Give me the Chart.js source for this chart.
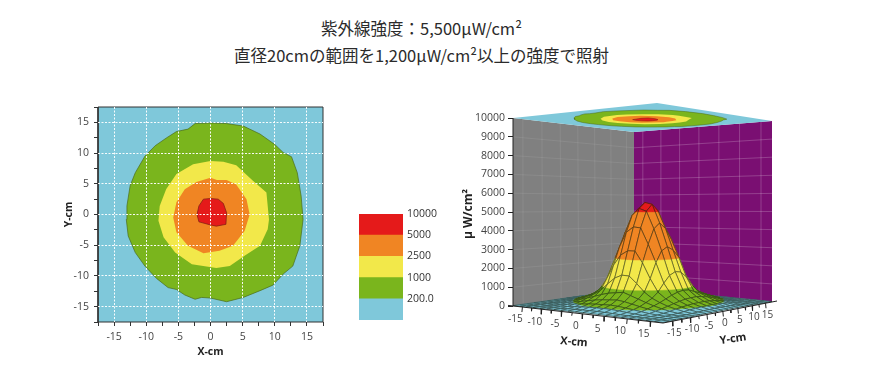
<!DOCTYPE html>
<html lang="ja">
<head>
<meta charset="utf-8">
<title>紫外線強度</title>
<script src="https://cdn.jsdelivr.net/npm/chart.js@4"></script>
<style>
html,body{margin:0;padding:0;background:#fff;width:872px;height:382px;overflow:hidden}
canvas{position:absolute;display:block}
.t{position:absolute;left:0;width:843px;text-align:center;font:16.5px "Noto Sans CJK JP","Noto Sans",sans-serif;color:#2b2b2b;line-height:24px;white-space:nowrap}
</style>
</head>
<body>
<div class="t" style="top:16px">紫外線強度：5,500μW/cm²</div>
<div class="t" style="top:43px">直径20cmの範囲を1,200μW/cm²以上の強度で照射</div>
<canvas id="contour" width="280" height="270" style="left:60px;top:95px"></canvas>
<canvas id="legend" width="110" height="130" style="left:340px;top:200px"></canvas>
<canvas id="surface" width="340" height="265" style="left:450px;top:95px"></canvas>
<script>
// ---------- data ----------
const axisTicks = [-15,-10,-5,0,5,10,15];
const minorTicks = [-17.5,-15,-12.5,-10,-7.5,-5,-2.5,0,2.5,5,7.5,10,12.5,15,17.5];
const zTicks = [0,1000,2000,3000,4000,5000,6000,7000,8000,9000,10000];
const legendLabels = ['200.0','1000','2500','5000','10000'];
const levels = [0,200,1000,2500,5000,10001];

const contour200 = [[0,14.9],[2.5,14.8],[5.1,14.4],[7.7,13.1],[10,11.4],[11.3,10.1],[12.6,9.4],[13.5,6.8],[14.1,3],[14.4,-0.8],[13.9,-5.1],[12.8,-8.4],[11.3,-9.7],[9.7,-11.5],[7.7,-12.4],[5.1,-13.5],[2.5,-14.2],[0,-13.6],[-1.4,-13.5],[-2.4,-13.8],[-4,-13.1],[-5.3,-12.2],[-6.6,-11.9],[-8.4,-10.4],[-10.2,-8.4],[-11.7,-6.2],[-12.8,-3.5],[-13.1,-0.8],[-13,1.4],[-12.5,4.7],[-11.7,6.8],[-10.2,9.5],[-8.6,11.2],[-6.8,12.5],[-5.3,13.5],[-3.5,13.9],[-2.4,14.8]];
const contour1000 = [[0,8.7],[2,8.6],[4,8],[6.6,5.5],[8.7,3.6],[9.1,-0.8],[8.9,-2.4],[7.7,-5.1],[5.3,-6.7],[3,-8.4],[0.9,-8.7],[-2.9,-8.1],[-5.5,-6.2],[-7.3,-3.7],[-8.1,-1],[-7.9,1.4],[-6.9,4.1],[-5.3,6.6],[-2.7,8.2]];
const contour2500 = [[0,6],[1,5.6],[2.5,5.6],[4,4.9],[5.6,2.5],[6.1,0],[5.3,-2.7],[3.5,-5.1],[1.4,-5.9],[-1.1,-6.3],[-3.5,-5.1],[-5.3,-2.9],[-5.8,-0.5],[-5.3,2],[-4,4.1],[-2.2,5.3]];
const contour5000 = [[0,2.6],[1.2,2.5],[2,1.8],[2.5,0.3],[2.4,-1.6],[0.9,-1.9],[0,-1.7],[-1.8,-1.2],[-2.1,0],[-1.8,1.4],[-1.1,2.5]];

// surface heights: rows are Y = -17.5 … 17.5, columns X = -17.5 … 17.5 (step 1.75)
const gridStep = 1.75, gridMin = -17.5;
const surfaceZ = [
[20,24,28,31,35,39,44,50,54,57,58,59,57,54,50,45,40,36,32,27,23],
[24,28,32,38,44,52,62,78,90,100,104,108,100,88,70,58,50,42,36,32,28],
[28,33,38,46,56,80,108,135,165,185,192,200,190,160,125,92,66,54,44,38,32],
[31,38,48,60,90,130,180,225,265,295,305,320,300,255,205,150,102,70,54,42,35],
[35,45,56,90,140,205,275,350,420,470,495,530,480,395,310,235,160,100,64,50,40],
[39,52,80,130,205,295,410,530,660,770,820,880,740,600,460,335,230,145,88,58,44],
[44,62,108,180,275,410,570,810,1180,1520,1700,1680,1320,910,630,450,305,205,120,68,50],
[50,78,135,225,350,530,810,1400,2150,2700,2950,2950,2350,1560,900,590,385,250,150,85,54],
[54,90,165,265,420,660,1180,2150,3100,3900,4200,4150,3300,2350,1320,730,460,290,180,98,57],
[57,100,185,295,470,770,1520,2700,3900,4800,5180,5030,4100,2950,1680,840,520,325,200,108,60],
[58,105,192,310,495,820,1650,2900,4150,5150,5500,5400,4400,3150,1850,900,545,335,210,115,62],
[58,105,195,310,510,800,1600,2850,4050,4950,5300,5050,4100,2950,1800,880,560,345,225,122,62],
[55,98,178,285,450,700,1240,2300,3250,4050,4300,4250,3500,2550,1500,760,520,325,205,110,58],
[52,85,150,245,380,570,880,1520,2300,2850,3050,3100,2550,1650,1040,640,460,295,180,100,56],
[48,70,120,200,300,440,620,880,1270,1640,1800,1780,1400,980,680,520,370,240,155,88,52],
[44,58,90,145,230,320,445,580,710,830,880,900,780,640,520,410,290,185,120,72,48],
[40,50,62,100,155,230,300,385,460,520,545,555,500,440,380,300,205,135,85,58,44],
[36,42,52,68,100,150,205,255,295,325,345,355,330,300,255,195,135,92,66,50,40],
[32,37,42,52,62,90,120,155,185,205,225,235,220,190,160,120,88,62,50,42,36],
[28,32,37,42,50,57,70,88,102,115,125,128,118,105,88,68,58,48,42,36,32],
[24,28,32,35,40,44,50,55,58,60,62,62,60,56,52,48,44,38,34,30,26]
];

// ---------- styles ----------
const bandColors = ['#7fc8da','#7ab51d','#f2e84a','#f08523','#e51a1a'];
const contourBorders = ['#333','#4a6b1a',null,null,'#7a1a12'];
const TEXT = '#333';
const FONT = '"Open Sans","Noto Sans",sans-serif';
Chart.defaults.animation = false;
Chart.defaults.responsive = false;
Chart.defaults.events = [];
Chart.defaults.plugins.legend.display = false;
Chart.defaults.plugins.tooltip.enabled = false;
Chart.defaults.font.family = FONT;
Chart.defaults.font.size = 10;
Chart.defaults.color = TEXT;

const toPts = a => a.map(p => ({x:p[0], y:p[1]}));
const closed = a => a.concat([a[0]]);
function shape(points, fillColor, line, width){
  return {data:points, showLine:true, pointRadius:0, fill: fillColor ? 'shape' : false,
    backgroundColor: fillColor || 'transparent', borderColor: line || 'transparent',
    borderWidth: line ? (width||1) : 0, clip:false, tension:0};
}
const noOverflow = s => { s.paddingTop=0; s.paddingBottom=0; s.paddingLeft=0; s.paddingRight=0; };

// ---------- left: contour map ----------
const LIM = 17.5;
const frame = [[-LIM,-LIM],[LIM,-LIM],[LIM,LIM],[-LIM,LIM]];
const contourSets = [contour200,contour1000,contour2500,contour5000];
const leftSets = [shape(toPts(closed(frame)), bandColors[0], '#333', 1)];
contourSets.forEach((c,i)=> leftSets.push(shape(toPts(closed(c)), bandColors[i+1], contourBorders[i+1], 0.7)));
const isMajor = v => Math.abs(v % 5) < 1e-6;
function planeAxis(title, fit){
  return {type:'linear', min:-LIM, max:LIM, afterFit:s=>{fit(s);noOverflow(s);},
    afterBuildTicks: s => { s.ticks = minorTicks.map(value=>({value})); },
    grid:{z:1, color:c=> isMajor(c.tick.value) && Math.abs(c.tick.value)<LIM ? 'rgba(255,255,255,0.95)' : 'transparent',
      lineWidth:1, tickColor:'#333', tickLength:4, tickWidth:1},
    border:{display:false, dash:[2,1.5]},
    ticks:{autoSkip:false, maxRotation:0, padding:5, font:{size:10.5}, color:'#444',
      callback:v=> axisTicks.includes(v) ? String(v) : ''},
    title:{display:true, text:title, font:{size:10.5, weight:'bold'}, color:'#222', padding:{top:1,bottom:0}}
  };
}
new Chart(document.getElementById('contour'),{
  type:'scatter',
  data:{datasets:leftSets.slice().reverse()},
  options:{layout:{padding:{top:12,right:17,left:2,bottom:7}},
    scales:{
      x:planeAxis('X-cm', s=>{s.height=36;}),
      y:planeAxis('Y-cm', s=>{s.width=36;})
    }}
});

// ---------- legend ----------
new Chart(document.getElementById('legend'),{
  type:'bar',
  data:{labels:[''], datasets:bandColors.map(c=>({data:[1], backgroundColor:c, barPercentage:1, categoryPercentage:1, borderWidth:0}))},
  options:{layout:{padding:{left:19,top:14,bottom:10,right:0}},
    scales:{
      x:{display:false, stacked:true},
      y:{stacked:true, position:'right', min:0, max:legendLabels.length, afterFit:s=>{s.width=47;noOverflow(s);},
        grid:{display:false,drawTicks:false}, border:{display:false},
        ticks:{stepSize:1, padding:4, font:{size:10.5}, color:TEXT, callback:v=> v>0 ? legendLabels[v-1] : ''}}
    }}
});

// ---------- right: 3-D surface ----------
// view corners on the page: floor and lid, order (X-,Y-),(X+,Y-),(X+,Y+),(X-,Y+)
const floorQuad = [[513,306],[663,323],[772,302],[634,290]];
const lidQuad   = [[513,118],[657,103],[772,121],[634,132]];
function homography(q){
  const [[x0,y0],[x1,y1],[x2,y2],[x3,y3]] = q;
  const dx1=x1-x2, dx2=x3-x2, sx=x0-x1+x2-x3, dy1=y1-y2, dy2=y3-y2, sy=y0-y1+y2-y3;
  const den=dx1*dy2-dx2*dy1, g=(sx*dy2-dx2*sy)/den, h=(dx1*sy-sx*dy1)/den;
  const a=x1-x0+g*x1, b=x3-x0+h*x3, d=y1-y0+g*y1, e=y3-y0+h*y3;
  return (u,v)=>{const w=g*u+h*v+1; return [(a*u+b*v+x0)/w,(d*u+e*v+y0)/w];};
}
const H0 = homography(floorQuad), H1 = homography(lidQuad);
function project(X,Y,Z){
  const u=(X+LIM)/(2*LIM), v=(Y+LIM)/(2*LIM), t=Z/10000;
  const a=H0(u,v), b=H1(u,v);
  return {x:a[0]+(b[0]-a[0])*t, y:a[1]+(b[1]-a[1])*t};
}
const sets3d = [];
// walls
const GRAY='#808080', PURPLE='#7a0f72', GRAYLINE='rgba(255,255,255,0.08)', PURPLELINE='rgba(255,255,255,0.2)';
sets3d.push(shape([project(-LIM,-LIM,0),project(-LIM,LIM,0),project(-LIM,LIM,10000),project(-LIM,-LIM,10000)].concat([project(-LIM,-LIM,0)]),GRAY));
sets3d.push(shape([project(-LIM,LIM,0),project(LIM,LIM,0),project(LIM,LIM,10000),project(-LIM,LIM,10000)].concat([project(-LIM,LIM,0)]),PURPLE));
zTicks.slice(1,-1).forEach(z=>{
  sets3d.push(shape([project(-LIM,-LIM,z),project(-LIM,LIM,z)],null,GRAYLINE,1));
  sets3d.push(shape([project(-LIM,LIM,z),project(LIM,LIM,z)],null,PURPLELINE,1));
});
axisTicks.forEach(v=>{
  sets3d.push(shape([project(-LIM,v,0),project(-LIM,v,10000)],null,GRAYLINE,1));
  sets3d.push(shape([project(v,LIM,0),project(v,LIM,10000)],null,PURPLELINE,1));
});
// lid with the contour map
sets3d.push(shape(closed(frame).map(p=>project(p[0],p[1],10000)),bandColors[0]));
contourSets.forEach((c,i)=> sets3d.push(shape(closed(c).map(p=>project(p[0],p[1],10000)),bandColors[i+1],contourBorders[i+1],0.5)));
// clip a mesh cell to one band of levels
function clipZ(poly,limit,keepAbove){
  const out=[];
  for(let i=0;i<poly.length;i++){
    const a=poly[i], b=poly[(i+1)%poly.length];
    const ia=keepAbove? a[2]>=limit : a[2]<=limit, ib=keepAbove? b[2]>=limit : b[2]<=limit;
    if(ia) out.push(a);
    if(ia!==ib){const t=(limit-a[2])/(b[2]-a[2]); out.push([a[0]+(b[0]-a[0])*t,a[1]+(b[1]-a[1])*t,limit]);}
  }
  return out;
}
const MESH='rgba(20,30,20,0.8)';
const n=surfaceZ.length;
for(let j=n-2;j>=0;j--){
  for(let i=0;i<n-1;i++){
    const X0=gridMin+i*gridStep, X1=X0+gridStep, Y0=gridMin+j*gridStep, Y1=Y0+gridStep;
    const cell=[[X0,Y0,surfaceZ[j][i]],[X1,Y0,surfaceZ[j][i+1]],[X1,Y1,surfaceZ[j+1][i+1]],[X0,Y1,surfaceZ[j+1][i]]];
    bandColors.forEach((col,b)=>{
      const piece=clipZ(clipZ(cell,levels[b],true),levels[b+1],false);
      if(piece.length>2){
        const pts=piece.map(p=>project(p[0],p[1],p[2]));
        sets3d.push(shape(closed(pts),col,col,0.5));
      }
    });
    sets3d.push(shape(closed(cell).map(p=>project(p[0],p[1],p[2])),null,MESH,0.65));
  }
}
// axes
const AX='#222';
sets3d.push(shape([project(-LIM,-LIM,0),project(-LIM,-LIM,10000)],null,AX,1));
sets3d.push(shape([{x:508,y:305.4},project(LIM,-LIM,0)],null,AX,1));
sets3d.push(shape([project(LIM,-LIM,0),{x:777,y:301}],null,AX,1));
minorTicks.slice(1,-1).forEach(v=>{
  const len=isMajor(v)?5:3;
  const a=project(v,-LIM,0), b=project(LIM,v,0);
  sets3d.push(shape([a,{x:a.x-0.5,y:a.y+len}],null,AX,1));
  sets3d.push(shape([b,{x:b.x+0.5,y:b.y+len}],null,AX,1));
});
const axisText = {
  id:'axisText',
  afterDatasetsDraw(chart){
    const c=chart.ctx, sx=chart.scales.viewX, sy=chart.scales.viewY;
    const at=p=>[sx.getPixelForValue(p.x),sy.getPixelForValue(p.y)];
    c.save(); c.fillStyle='#444'; c.font='10px '+FONT; c.textAlign='center'; c.textBaseline='middle';
    axisTicks.forEach(v=>{
      const a=at(project(v,-LIM,0)); c.fillText(String(v),a[0]-7,a[1]+12.5);
      const b=at(project(LIM,v,0)); c.fillText(String(v),b[0]+2,b[1]+11.5);
    });
    c.fillStyle='#222'; c.font='bold 11px '+FONT;
    let p=at({x:574,y:342}); c.save(); c.translate(p[0],p[1]); c.rotate(5*Math.PI/180); c.fillText('X-cm',0,0); c.restore();
    p=at({x:733,y:339}); c.save(); c.translate(p[0],p[1]); c.rotate(-8*Math.PI/180); c.fillText('Y-cm',0,0); c.restore();
    c.restore();
  }
};
// the view scales run in page pixels; chart area spans page y 100…328, x 513…772
const VIEW={left:513,right:772,top:100,bottom:328};
const zPerPx=10000/(306-118);
new Chart(document.getElementById('surface'),{
  type:'scatter',
  data:{datasets:sets3d.map(d=>Object.assign(d,{xAxisID:'viewX',yAxisID:'viewY'})).reverse()},
  plugins:[axisText],
  options:{layout:{padding:{top:VIEW.top-95,bottom:360-VIEW.bottom,right:790-VIEW.right,left:0}},
    scales:{
      viewX:{type:'linear',axis:'x',display:false,min:VIEW.left,max:VIEW.right},
      viewY:{type:'linear',axis:'y',display:false,min:VIEW.top,max:VIEW.bottom,reverse:true},
      zAxis:{type:'linear',axis:'y',position:'left',
        min:(306-VIEW.bottom)*zPerPx,max:(306-VIEW.top)*zPerPx,
        afterFit:s=>{s.width=VIEW.left-450;noOverflow(s);},
        afterBuildTicks:s=>{s.ticks=zTicks.map(value=>({value}));},
        grid:{drawOnChartArea:false,tickLength:5,tickColor:AX},border:{display:false},
        ticks:{autoSkip:false,padding:3,font:{size:10.5},color:'#444',callback:v=>String(v)},
        title:{display:true,text:'μ W/cm²',font:{size:12,weight:'bold'},color:'#222',padding:{top:11,bottom:0}}
      }
    }}
});
</script>
</body>
</html>
